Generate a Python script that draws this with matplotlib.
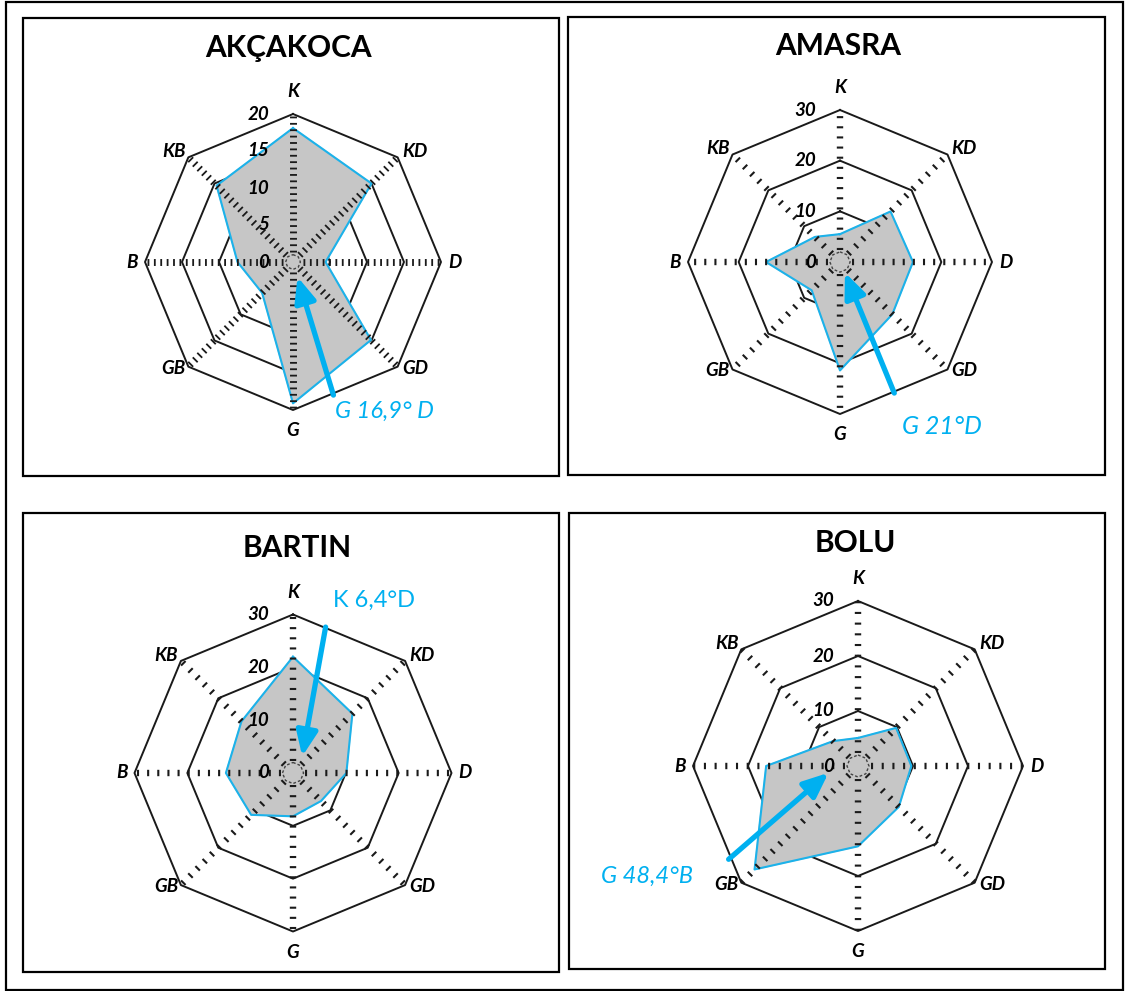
import numpy as np
import matplotlib
matplotlib.use('Agg')
import matplotlib.pyplot as plt
from matplotlib.patches import Rectangle

plt.rcParams['font.family'] = ['Lato', 'DejaVu Sans']
plt.rcParams['lines.scale_dashes'] = False

# ---------------- data ----------------
directions = ['K', 'KD', 'D', 'GD', 'G', 'GB', 'B', 'KB']
stations = ['AKÇAKOCA', 'AMASRA', 'BARTIN', 'BOLU']
akcakoca = [18.1, 15.0, 4.4, 14.9, 19.1, 5.9, 7.5, 14.6]
amasra = [5.5, 14.1, 14.4, 14.6, 21.4, 7.9, 14.6, 7.0]
bartin = [22.0, 15.9, 10.1, 7.5, 8.2, 11.2, 12.7, 13.8]
bolu = [5.1, 9.8, 9.7, 10.5, 14.6, 26.6, 16.7, 6.4]
series = [akcakoca, amasra, bartin, bolu]
axis_max = [20, 30, 30, 30]
axis_step = [5, 10, 10, 10]
resultant_labels = ['G 16,9° D', 'G 21°D', 'K 6,4°D', 'G 48,4°B']
label_italic = [True, True, False, True]
# resultant arrows: (bearing deg, radius) of tail and tip
arrow_tail = [(163.1, 18.8), (157.5, 28.0), (12.6, 28.3), (234.2, 29.0)]
arrow_tip = [(163.1, 2.1), (155.0, 2.3), (29.0, 3.6), (257.0, 5.5)]

# ---------------- layout (pixels) ----------------
W, H = 1125, 991
centers = [(293, 262), (840, 262), (293, 773), (858, 766)]
radii = [148, 152, 158.5, 165]
title_pos = [(288, 48), (838, 46), (297, 548), (855, 543)]
label_pos = [(335, 411), (902, 427), (333, 600), (601, 876)]
label_size = [17, 18, 17, 17]
boxes = [(23, 18, 559, 476), (568, 17, 1105, 475), (23, 513, 559, 972), (569, 513, 1105, 969)]
spoke_dash = [(1.3, 3.3), (1.5, 5.8), (1.5, 5.8), (1.5, 6.2)]

BLUE = '#00B0F0'
EDGE = '#1CB2EA'
FILL = '#C6C6C6'
INK = '#1a1a1a'

fig = plt.figure(figsize=(W / 100, H / 100), dpi=100)
fig.patch.set_facecolor('white')

# outer frame and panel frames
fig.add_artist(Rectangle((6 / W, 1 - 990 / H), (1123 - 6) / W, (990 - 1.5) / H,
                         transform=fig.transFigure, fill=False, ec='black', lw=1.6))
for (x1, y1, x2, y2) in boxes:
    fig.add_artist(Rectangle((x1 / W, 1 - y2 / H), (x2 - x1) / W, (y2 - y1) / H,
                             transform=fig.transFigure, fill=False, ec='black', lw=1.6))

theta = np.deg2rad(np.arange(8) * 45.0)
theta_c = np.append(theta, theta[0])

offsets = {  # label offsets in points relative to outer vertex
    'K': (0, 16, 'center', 'center'),
    'KD': (3, 4, 'left', 'center'),
    'D': (5, 0, 'left', 'center'),
    'GD': (3, -1, 'left', 'center'),
    'G': (0, -15, 'center', 'center'),
    'GB': (-2, -1, 'right', 'center'),
    'B': (-5, 0, 'right', 'center'),
    'KB': (-2, 4, 'right', 'center'),
}

for i in range(4):
    cx, cy = centers[i]
    R = radii[i]
    ax = fig.add_axes([(cx - R) / W, 1 - (cy + R) / H, 2 * R / W, 2 * R / H], projection='polar')
    ax.set_theta_zero_location('N')
    ax.set_theta_direction(-1)
    ax.set_ylim(0, axis_max[i])
    ax.grid(False)
    ax.set_xticks([])
    ax.set_yticks([])
    ax.spines['polar'].set_visible(False)
    ax.patch.set_alpha(0)

    ticks = np.arange(0, axis_max[i] + 0.1, axis_step[i])
    # ring gridlines
    for t in ticks[1:]:
        ax.plot(theta_c, [t] * 9, color=INK, lw=1.4, zorder=1, clip_on=False)
    # small dashed centre ring
    ax.plot(theta_c, [axis_step[i] / 5] * 9, color='#444444', lw=1.0,
            linestyle=(0, (2, 1.5)), zorder=4, clip_on=False)

    vals = series[i]
    vals_c = np.append(vals, vals[0])
    ax.fill(theta_c, vals_c, color=FILL, zorder=2, clip_on=False)
    ax.plot(theta_c, vals_c, color=EDGE, lw=1.5, zorder=3, clip_on=False)

    # spokes
    for th in theta:
        ln, = ax.plot([th, th], [axis_step[i] / 5 + 0.3, axis_max[i]], color=INK,
                      lw=5.0 if i == 0 else 4.6, zorder=4, clip_on=False, solid_capstyle='butt')
        ln.set_dashes(spoke_dash[i])
        ln.set_dash_capstyle('butt')

    # tick labels
    for t in ticks:
        ax.annotate(f'{int(t)}', xy=(0, t), xytext=(-17, 0), textcoords='offset points',
                    ha='right', va='center', fontsize=13.5, fontweight='bold',
                    fontstyle='italic', color='black', zorder=6, annotation_clip=False)

    # direction labels
    for th, d in zip(theta, directions):
        dx, dy, ha, va = offsets[d]
        ax.annotate(d, xy=(th, axis_max[i]), xytext=(dx, dy), textcoords='offset points',
                    ha=ha, va=va, fontsize=13.5, fontweight='bold', fontstyle='italic',
                    color='black', annotation_clip=False)

    # resultant arrow
    tail = (np.deg2rad(arrow_tail[i][0]), arrow_tail[i][1])
    tip = (np.deg2rad(arrow_tip[i][0]), arrow_tip[i][1])
    ax.annotate('', xy=tip, xytext=tail,
                arrowprops=dict(arrowstyle='-|>,head_length=0.75,head_width=0.32',
                                color=BLUE, lw=3.8, shrinkA=0, shrinkB=0,
                                mutation_scale=20),
                annotation_clip=False, zorder=7)

    # title and resultant label
    tx, ty = title_pos[i]
    fig.text(tx / W, 1 - ty / H, stations[i], ha='center', va='center',
             fontsize=21.5, fontweight='bold', color='black')
    lx, ly = label_pos[i]
    fig.text(lx / W, 1 - ly / H, resultant_labels[i], ha='left', va='center',
             fontsize=label_size[i], fontstyle='italic' if label_italic[i] else 'normal',
             color=BLUE)

fig.savefig('out.png', dpi=100, facecolor='white')
